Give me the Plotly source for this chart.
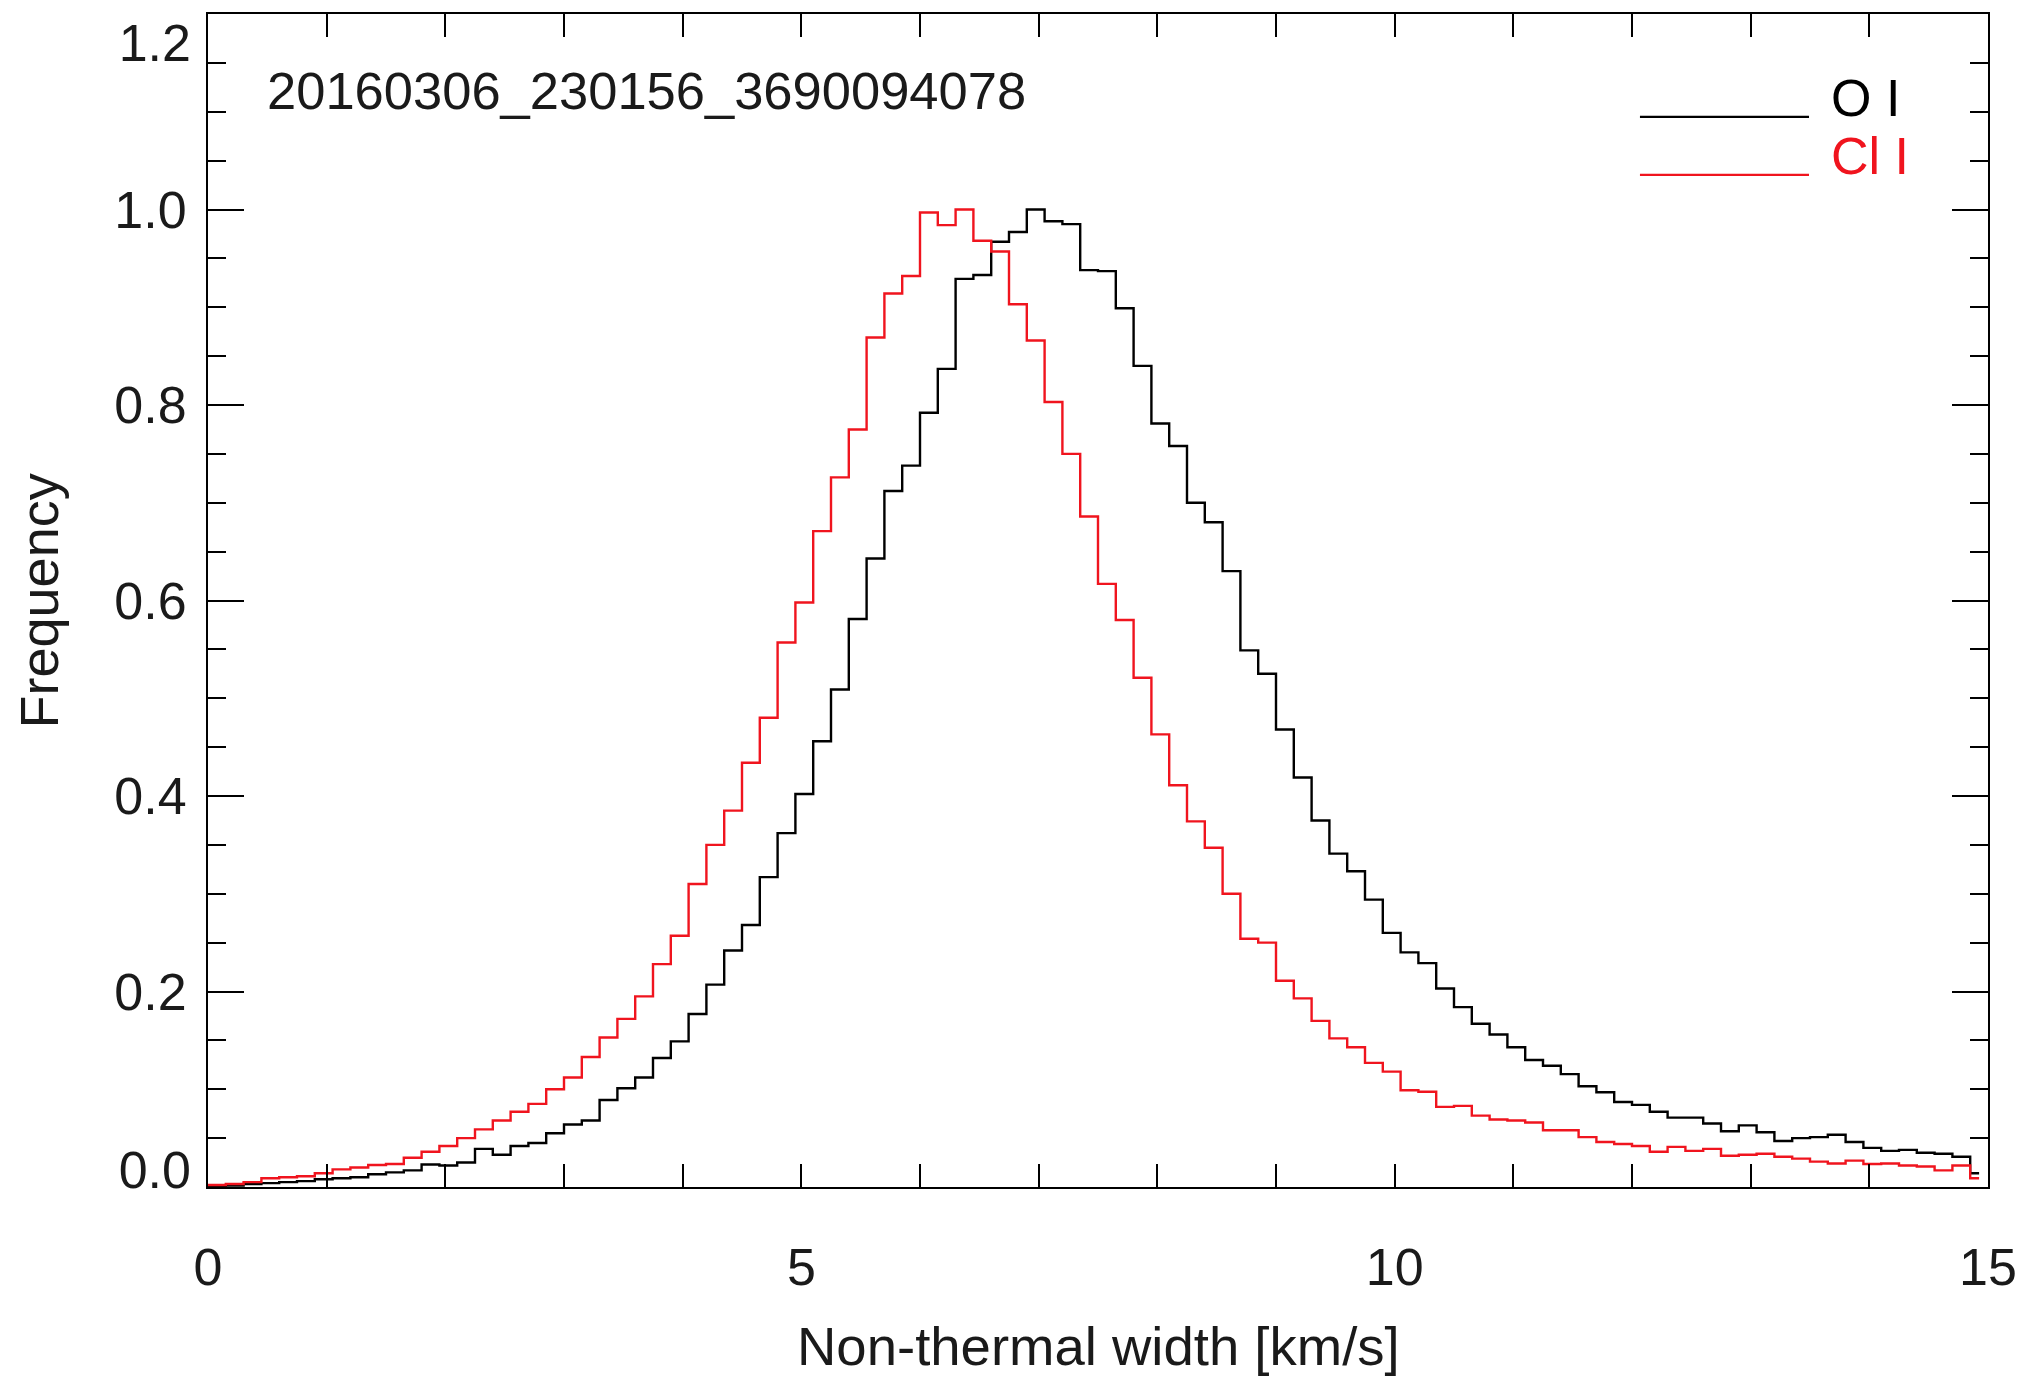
import numpy as np
import plotly.graph_objects as go

# ---- data (normalised histograms, bin width 0.15 km/s, 100 bins from 0 to 15) ----
bin_width = 0.15
o_i = [0.001, 0.0015, 0.003, 0.004, 0.005, 0.006, 0.008, 0.009, 0.010, 0.013,
       0.015, 0.017, 0.023, 0.022, 0.025, 0.039, 0.033, 0.042, 0.045, 0.055,
       0.064, 0.068, 0.089, 0.101, 0.112, 0.132, 0.149, 0.177, 0.207, 0.242,
       0.268, 0.317, 0.362, 0.402, 0.456, 0.509, 0.581, 0.643, 0.712, 0.738,
       0.792, 0.837, 0.929, 0.933, 0.967, 0.977, 1.000, 0.988, 0.985, 0.938,
       0.937, 0.899, 0.840, 0.781, 0.758, 0.700, 0.680, 0.630, 0.549, 0.525,
       0.468, 0.419, 0.375, 0.341, 0.323, 0.294, 0.260, 0.240, 0.229, 0.203,
       0.184, 0.167, 0.156, 0.143, 0.130, 0.124, 0.1155, 0.103, 0.097, 0.087,
       0.084, 0.077, 0.071, 0.071, 0.065, 0.057, 0.063, 0.056, 0.047, 0.050,
       0.051, 0.0535, 0.046, 0.040, 0.037, 0.038, 0.035, 0.034, 0.031, 0.014]
cl_i = [0.002, 0.003, 0.005, 0.009, 0.010, 0.011, 0.014, 0.018, 0.020, 0.0225,
        0.0235, 0.030, 0.036, 0.042, 0.050, 0.059, 0.068, 0.077, 0.085, 0.100,
        0.112, 0.133, 0.153, 0.172, 0.195, 0.228, 0.257, 0.310, 0.350, 0.385,
        0.434, 0.480, 0.557, 0.598, 0.671, 0.726, 0.775, 0.869, 0.914, 0.932,
        0.997, 0.984, 1.000, 0.968, 0.957, 0.903, 0.866, 0.803, 0.750, 0.686,
        0.617, 0.580, 0.521, 0.463, 0.411, 0.374, 0.347, 0.300, 0.254, 0.250,
        0.211, 0.193, 0.170, 0.152, 0.143, 0.127, 0.118, 0.099, 0.0975, 0.082,
        0.083, 0.073, 0.069, 0.068, 0.066, 0.058, 0.058, 0.051, 0.046, 0.044,
        0.042, 0.036, 0.041, 0.037, 0.039, 0.032, 0.033, 0.034, 0.031, 0.029,
        0.026, 0.024, 0.027, 0.0235, 0.024, 0.022, 0.021, 0.017, 0.022, 0.009]
series_names = ["O I", "Cl I"]
x_ticks = [0, 5, 10, 15]
x_tick_text = ["0", "5", "10", "15"]
y_ticks = [0.2, 0.4, 0.6, 0.8, 1.0]
y_tick_text = ["0.2", "0.4", "0.6", "0.8", "1.0"]
# end labels are nudged inward (as IDL does) -> placed on an overlaid label-only axis
y_end_ticks = [0.0174, 1.1707]
y_end_text = ["0.0", "1.2"]
title_text = "20160306_230156_3690094078"
x_title = "Non-thermal width [km/s]"
y_title = "Frequency"

# step coordinates: left bin edges, last bin drawn half-width (IDL psym=10 style)
n = len(o_i)
x_edges = np.arange(n) * bin_width
x_step = np.append(x_edges, x_edges[-1] + bin_width / 2)

BLACK = "#000000"
RED = "#f0141e"
TXT = "#1a1a1a"
FONT = "Liberation Sans, Arial, Helvetica, sans-serif"
FS = 52

fig = go.Figure()
for vals, name, col in [(o_i, series_names[0], BLACK), (cl_i, series_names[1], RED)]:
    fig.add_trace(go.Scatter(
        x=x_step, y=np.append(vals, vals[-1]), mode="lines", name=name,
        line=dict(color=col, width=2.4, shape="hv"), showlegend=False))

axis_common = dict(
    showline=True, linecolor="black", linewidth=2, mirror="allticks",
    ticks="inside", tickcolor="black", tickwidth=2,
    showgrid=False, zeroline=False,
    tickfont=dict(family=FONT, size=FS, color=TXT),
)

fig.update_layout(
    xaxis=dict(range=[0, 15], tickvals=x_ticks, ticktext=x_tick_text, ticklen=23,
               ticklabelstandoff=34, ticklabeloverflow="allow",
               minor=dict(tick0=0, dtick=1, ticks="inside", ticklen=12,
                          tickwidth=2, tickcolor="black", showgrid=False),
               **axis_common),
    yaxis=dict(range=[0, 1.2], tickvals=y_ticks, ticktext=y_tick_text, ticklen=36,
               ticklabelstandoff=9,
               minor=dict(tick0=0, dtick=0.05, ticks="inside", ticklen=18,
                          tickwidth=2, tickcolor="black", showgrid=False),
               **axis_common),
    yaxis2=dict(range=[0, 1.2], overlaying="y", anchor="x", side="left",
                tickvals=y_end_ticks, ticktext=y_end_text, ticks="",
                ticklabelstandoff=16, showline=False, showgrid=False, zeroline=False,
                ticklabeloverflow="allow",
                tickfont=dict(family=FONT, size=FS, color=TXT)),
)
# empty trace so the overlaid label axis is rendered
fig.add_trace(go.Scatter(x=[], y=[], yaxis="y2", showlegend=False, hoverinfo="skip"))

W, H = 2029, 1380
L, R, T, B = 208, 31, 13, 193
pw, ph = W - L - R, H - T - B

def px(xp):
    return (xp - L) / pw

def py(yp):
    return (H - B - yp) / ph

annotations = [
    dict(text=title_text, x=px(265), y=py(90), xref="paper", yref="paper",
         xanchor="left", yanchor="middle", showarrow=False,
         font=dict(family=FONT, size=52.5, color=TXT)),
    dict(text=x_title, x=0.5, y=py(1347), xref="paper", yref="paper",
         xanchor="center", yanchor="middle", showarrow=False,
         font=dict(family=FONT, size=54.5, color=TXT)),
    dict(text=y_title, x=px(38), y=0.5, xref="paper", yref="paper",
         xanchor="center", yanchor="middle", textangle=-90, showarrow=False,
         font=dict(family=FONT, size=54, color=TXT)),
    dict(text=series_names[0], x=px(1838), y=py(97), xref="paper", yref="paper",
         xanchor="left", yanchor="middle", showarrow=False,
         font=dict(family=FONT, size=FS, color=BLACK)),
    dict(text=series_names[1], x=px(1838), y=py(155), xref="paper", yref="paper",
         xanchor="left", yanchor="middle", showarrow=False,
         font=dict(family=FONT, size=FS, color=RED)),
]
shapes = [
    dict(type="line", xref="paper", yref="paper", x0=px(1648), x1=px(1818),
         y0=py(116), y1=py(116), line=dict(color=BLACK, width=2.4)),
    dict(type="line", xref="paper", yref="paper", x0=px(1648), x1=px(1818),
         y0=py(174), y1=py(174), line=dict(color=RED, width=2.4)),
]

fig.update_layout(
    width=W, height=H,
    margin=dict(l=L, r=R, t=T, b=B, pad=0),
    paper_bgcolor="white", plot_bgcolor="white",
    annotations=annotations, shapes=shapes, showlegend=False,
)

fig.write_html("out.html")
